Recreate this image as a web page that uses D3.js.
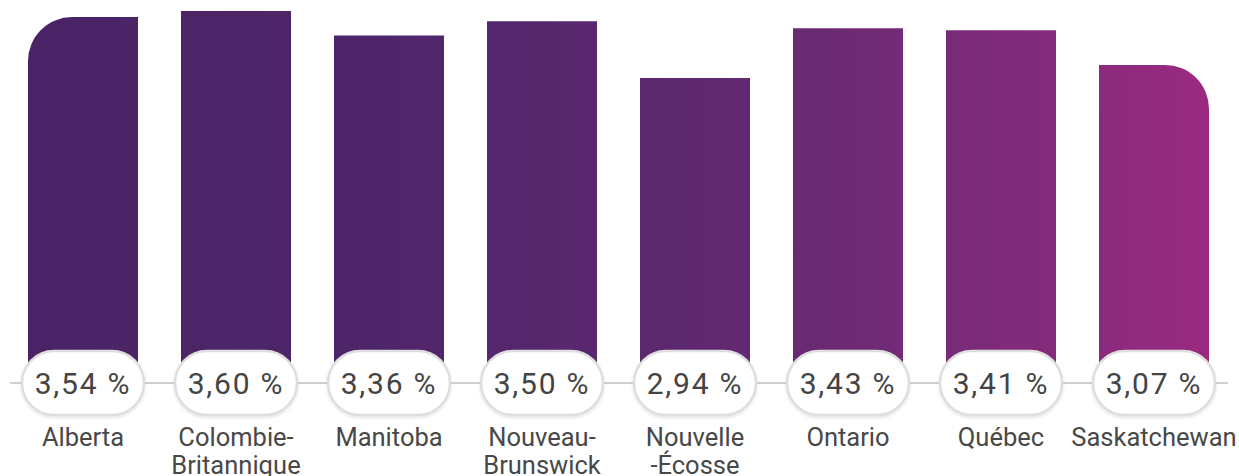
<!DOCTYPE html>
<html>
<head>
<meta charset="utf-8">
<script src="https://cdn.jsdelivr.net/npm/d3@7"></script>
<style>
  body { margin: 0; background: #fff; }
  svg { display: block; }
</style>
</head>
<body>
<div id="wrapper"></div>
<script>
const provinces = ["Alberta", "Colombie-Britannique", "Manitoba", "Nouveau-Brunswick", "Nouvelle-Écosse", "Ontario", "Québec", "Saskatchewan"]
const labelLines = [["Alberta"], ["Colombie-", "Britannique"], ["Manitoba"], ["Nouveau-", "Brunswick"], ["Nouvelle", "-Écosse"], ["Ontario"], ["Québec"], ["Saskatchewan"]]
const rates = [3.54, 3.60, 3.36, 3.50, 2.94, 3.43, 3.41, 3.07]
const rateLabels = ["3,54 %", "3,60 %", "3,36 %", "3,50 %", "2,94 %", "3,43 %", "3,41 %", "3,07 %"]

function createChartDimensions() {
    let dimensions = {
        width: 1239,
        height: 476,
        barLeft: 28,
        barRight: 1209,
        top: 11,
        zeroY: 377,
        baselineY: 383,
        corner: 44,
    }
    return dimensions
}

function drawChart() {
    const dimensions = createChartDimensions()
    const svg = d3.select("#wrapper")
        .append("svg")
        .attr("width", dimensions.width)
        .attr("height", dimensions.height)

    const xScale = d3.scaleBand()
        .domain(provinces)
        .range([dimensions.barLeft, dimensions.barRight])
        .paddingInner(0.281)
        .paddingOuter(0)
    const yScale = d3.scaleLinear()
        .domain([0, d3.max(rates)])
        .range([dimensions.zeroY, dimensions.top])

    const defs = svg.append("defs")
    const grad = defs.append("linearGradient")
        .attr("id", "barGradient")
        .attr("gradientUnits", "userSpaceOnUse")
        .attr("x1", dimensions.barLeft).attr("x2", dimensions.barRight)
        .attr("y1", 0).attr("y2", 0)
    const stops = [[0, "#4a2367"], [0.3, "#4f2569"], [0.55, "#5d286f"], [0.8, "#7a2b79"], [1, "#9a2a80"]]
    grad.selectAll("stop").data(stops).join("stop")
        .attr("offset", d => d[0])
        .attr("stop-color", d => d[1])

    const shadow = defs.append("filter").attr("id", "pillShadow")
        .attr("x", "-20%").attr("y", "-30%").attr("width", "140%").attr("height", "160%")
    shadow.append("feDropShadow")
        .attr("dx", 0).attr("dy", 1.5).attr("stdDeviation", 1.5)
        .attr("flood-color", "#000").attr("flood-opacity", 0.12)

    // bars, first and last get a rounded outer corner
    const last = provinces.length - 1
    const barPath = (d, i) => {
        const x0 = xScale(d), x1 = x0 + xScale.bandwidth()
        const y0 = yScale(rates[i]), y1 = dimensions.zeroY
        const r = dimensions.corner
        const p = d3.path()
        if (i === 0) {
            p.moveTo(x0, y1)
            p.lineTo(x0, y0 + r)
            p.arcTo(x0, y0, x0 + r, y0, r)
            p.lineTo(x1, y0)
            p.lineTo(x1, y1)
        } else if (i === last) {
            p.moveTo(x0, y1)
            p.lineTo(x0, y0)
            p.lineTo(x1 - r, y0)
            p.arcTo(x1, y0, x1, y0 + r, r)
            p.lineTo(x1, y1)
        } else {
            p.rect(x0, y0, x1 - x0, y1 - y0)
        }
        p.closePath()
        return p.toString()
    }
    svg.append("g")
        .selectAll("path")
        .data(provinces)
        .join("path")
        .attr("d", barPath)
        .attr("fill", "url(#barGradient)")

    // baseline
    svg.append("line")
        .attr("x1", 10).attr("x2", 1228)
        .attr("y1", dimensions.baselineY).attr("y2", dimensions.baselineY)
        .attr("stroke", "#cfcfcf")
        .attr("stroke-width", 2)

    // value pills
    const pillW = 122, pillH = 64
    const pills = svg.append("g")
        .selectAll("g")
        .data(provinces)
        .join("g")
        .attr("transform", d => `translate(${xScale(d) + xScale.bandwidth() / 2}, ${dimensions.baselineY})`)
    pills.append("rect")
        .attr("x", -pillW / 2).attr("y", -pillH / 2)
        .attr("width", pillW).attr("height", pillH)
        .attr("rx", pillH / 2)
        .attr("fill", "#fff")
        .attr("stroke", "#dedede")
        .attr("stroke-width", 2.5)
        .attr("filter", "url(#pillShadow)")
    pills.append("text")
        .attr("text-anchor", "middle")
        .attr("y", 11)
        .attr("font-family", "Roboto, sans-serif")
        .attr("font-size", 30)
        .attr("letter-spacing", 1.8)
        .attr("fill", "#444")
        .text((d, i) => rateLabels[i])

    // category labels
    const labels = svg.append("g")
        .selectAll("text")
        .data(provinces)
        .join("text")
        .attr("x", d => xScale(d) + xScale.bandwidth() / 2)
        .attr("y", 446)
        .attr("text-anchor", "middle")
        .attr("font-family", "Roboto, sans-serif")
        .attr("font-size", 25.5)
        .attr("fill", "#484848")
    labels.selectAll("tspan")
        .data((d, i) => labelLines[i])
        .join("tspan")
        .attr("x", function () { return this.parentNode.getAttribute("x") })
        .attr("dy", (d, j) => j === 0 ? 0 : 28)
        .text(d => d)
}

drawChart()
</script>
</body>
</html>
